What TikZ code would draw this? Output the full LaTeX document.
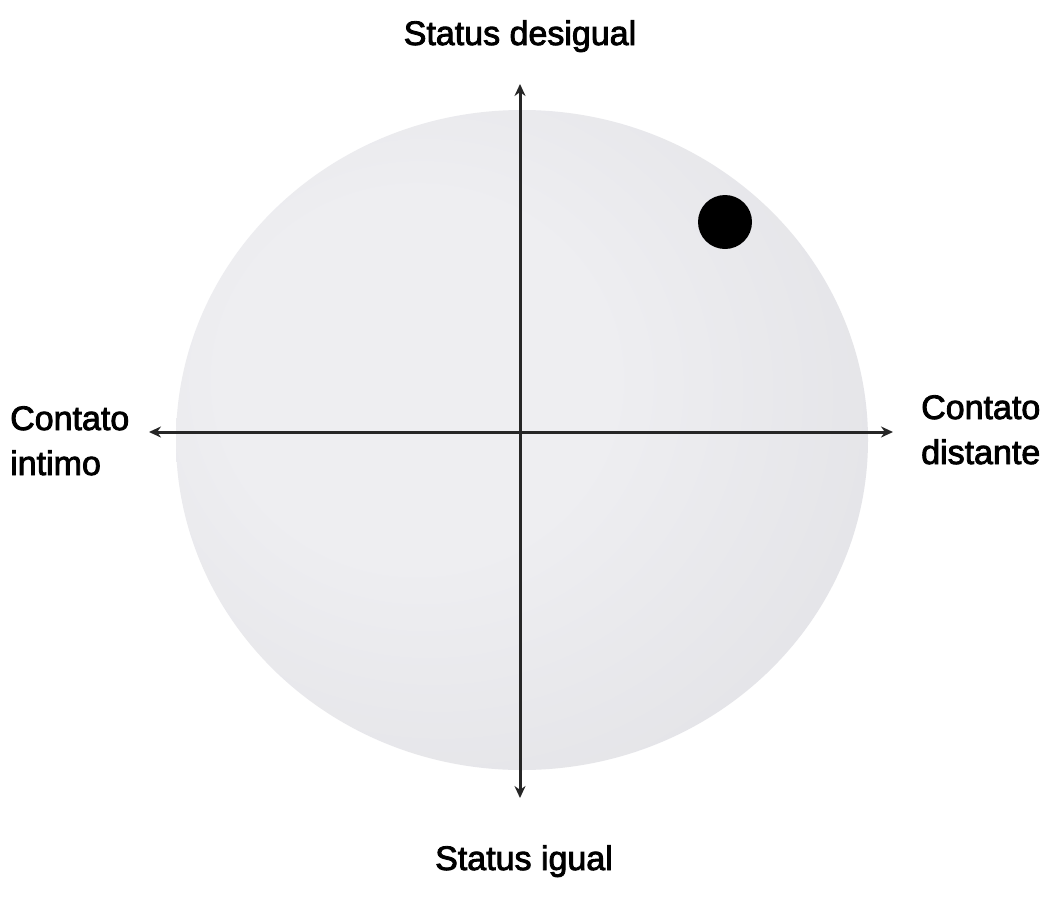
\documentclass[tikz,border=0pt]{standalone}
\usepackage{fontspec}
\setmainfont{Liberation Sans}[BoldFont=Liberation Sans, BoldFeatures={FakeBold=2.5}]
\usetikzlibrary{arrows.meta,shapes.geometric}
\definecolor{sphin}{HTML}{EEEEF1}
\definecolor{sphmid}{HTML}{E0E0E4}
\definecolor{sphout}{HTML}{C3C3C8}
\pgfdeclareradialshading{sphshade}{\pgfpoint{-10bp}{6bp}}{%
  color(0bp)=(sphin); color(14bp)=(sphin); color(40bp)=(sphmid); color(58bp)=(sphout); color(62bp)=(sphout)}
\tikzset{
  axis/.style={line width=3pt, draw=black!85, -{Stealth[length=12pt,width=11pt]}},
  lbl/.style={font=\fontsize{34}{45}\selectfont\bfseries, text=black, inner sep=0pt},
}
\begin{document}
\begin{tikzpicture}[x=1pt,y=-1pt]
\useasboundingbox[fill=white] (0,0) rectangle (1049,913);
\node[ellipse, minimum width=692pt, minimum height=660pt, inner sep=0pt, shading=sphshade] (sphere) at (522,440) {};
\fill[black] (725,222) circle (27pt);
\coordinate (o) at (520,432);
\coordinate (L) at (149,432);
\coordinate (R) at (893,432);
\coordinate (T) at (520,84);
\coordinate (B) at (520,798);
\draw[axis] (o) -- (L);
\draw[axis] (o) -- (R);
\draw[axis] (o) -- (T);
\draw[axis] (o) -- (B);
\node[lbl, anchor=base] (top) at (520,45) {Status desigual};
\node[lbl, anchor=base] (bot) at (524,870) {Status igual};
\node[lbl, anchor=base west, align=left] (lft) at (10,475) {Contato\\intimo};
\node[lbl, anchor=base west, align=left] (rgt) at (921,464) {Contato\\distante};
\end{tikzpicture}
\end{document}
